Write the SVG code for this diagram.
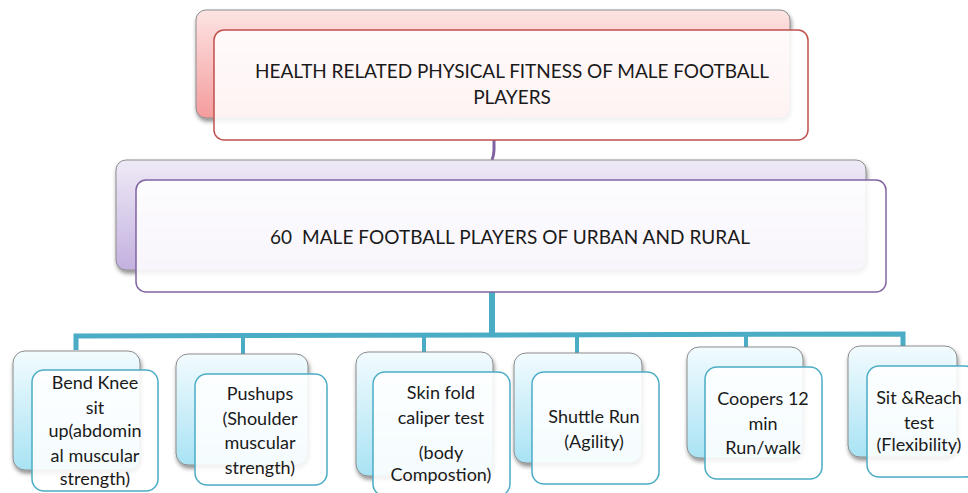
<svg xmlns="http://www.w3.org/2000/svg" width="968" height="493" viewBox="0 0 968 493">
<defs>
<linearGradient id="gRed" x1="0" y1="0" x2="0" y2="1"><stop offset="0" stop-color="#fde4e4"/><stop offset="1" stop-color="#f59c9c"/></linearGradient>
<linearGradient id="gPur" x1="0" y1="0" x2="0" y2="1"><stop offset="0" stop-color="#efeaf7"/><stop offset="1" stop-color="#c3b1df"/></linearGradient>
<linearGradient id="gCyan" x1="0" y1="0" x2="0" y2="1"><stop offset="0" stop-color="#f2fbfe"/><stop offset="1" stop-color="#a9e3f4"/></linearGradient>
<filter id="sh" x="-10%" y="-10%" width="130%" height="140%"><feDropShadow dx="1" dy="3" stdDeviation="2" flood-color="#000" flood-opacity="0.45"/></filter>
</defs>
<style>
.back{stroke:#8c8c8c;stroke-width:1;filter:url(#sh)}
.fr{stroke-width:1.5;fill:#ffffff;fill-opacity:0.88}
.t{font-family:Lato,"Liberation Sans",sans-serif;font-size:19px;fill:#1a1a1a;text-anchor:middle}
.tb{font-family:Lato,"Liberation Sans",sans-serif;font-size:18px;fill:#1a1a1a;text-anchor:middle}
</style>
<rect width="968" height="493" fill="#fff"/>
<g id="connectors" fill="none" stroke-linecap="butt">
<path d="M494,140 L494,150 Q494,155 492,160" stroke="#8064a2" stroke-width="3"/>
<path d="M492,292 L492,337" stroke="#4bacc6" stroke-width="6"/>
<path d="M76,350 L76,336 L903,334 L903,346" stroke="#4bacc6" stroke-width="5"/>
<path d="M243,336 V354 M424,336 V352 M577,335 V353 M746,334 V349" stroke="#4bacc6" stroke-width="4"/>
</g>
<g id="n-title">
<rect class="back" x="196" y="10" width="594" height="108" rx="10" fill="url(#gRed)"/>
<rect class="fr" x="214" y="30" width="594" height="110" rx="10" stroke="#c0504d" fill="#fff6f6"/>
<text class="t" x="512" y="78" textLength="514">HEALTH RELATED PHYSICAL FITNESS OF MALE FOOTBALL</text>
<text class="t" x="512" y="104">PLAYERS</text>
</g>
<g id="n-sample">
<rect class="back" x="116" y="160" width="750" height="110" rx="10" fill="url(#gPur)"/>
<rect class="fr" x="136" y="180" width="750" height="112" rx="10" stroke="#8064a2"/>
<text class="t" x="510" y="244" xml:space="preserve" textLength="480">60  MALE FOOTBALL PLAYERS OF URBAN AND RURAL</text>
</g>
<g id="n-bendknee">
<rect class="back" x="13" y="351" width="127" height="119" rx="12" fill="url(#gCyan)"/>
<rect class="fr" x="32" y="370" width="126" height="121" rx="12" stroke="#4bacc6"/>
<text class="tb" x="95" y="389">Bend Knee</text>
<text class="tb" x="95" y="414">sit</text>
<text class="tb" x="95" y="437">up(abdomin</text>
<text class="tb" x="95" y="462">al muscular</text>
<text class="tb" x="95" y="485">strength)</text>
</g>
<g id="n-pushups">
<rect class="back" x="176" y="354" width="132" height="111" rx="12" fill="url(#gCyan)"/>
<rect class="fr" x="195" y="374" width="132" height="111" rx="12" stroke="#4bacc6"/>
<text class="tb" x="260" y="400">Pushups</text>
<text class="tb" x="260" y="425">(Shoulder</text>
<text class="tb" x="260" y="449">muscular</text>
<text class="tb" x="260" y="474">strength)</text>
</g>
<g id="n-skinfold">
<rect class="back" x="356" y="352" width="137" height="124" rx="12" fill="url(#gCyan)"/>
<rect class="fr" x="373" y="372" width="137" height="124" rx="12" stroke="#4bacc6"/>
<text class="tb" x="441" y="399">Skin fold</text>
<text class="tb" x="441" y="424">caliper test</text>
<text class="tb" x="441" y="459">(body</text>
<text class="tb" x="441" y="481">Compostion)</text>
</g>
<g id="n-shuttle">
<rect class="back" x="514" y="353" width="128" height="110" rx="12" fill="url(#gCyan)"/>
<rect class="fr" x="532" y="372" width="127" height="112" rx="12" stroke="#4bacc6"/>
<text class="tb" x="594" y="423">Shuttle Run</text>
<text class="tb" x="594" y="448">(Agility)</text>
</g>
<g id="n-coopers">
<rect class="back" x="687" y="347" width="116" height="111" rx="12" fill="url(#gCyan)"/>
<rect class="fr" x="705" y="367" width="117" height="112" rx="12" stroke="#4bacc6"/>
<text class="tb" x="763" y="405">Coopers 12</text>
<text class="tb" x="763" y="430">min</text>
<text class="tb" x="763" y="454">Run/walk</text>
</g>
<g id="n-sitreach">
<rect class="back" x="848" y="346" width="109" height="111" rx="12" fill="url(#gCyan)"/>
<rect class="fr" x="867" y="366" width="110" height="111" rx="12" stroke="#4bacc6"/>
<text class="tb" x="919" y="404">Sit &amp;Reach</text>
<text class="tb" x="919" y="429">test</text>
<text class="tb" x="919" y="451">(Flexibility)</text>
</g>
</svg>
